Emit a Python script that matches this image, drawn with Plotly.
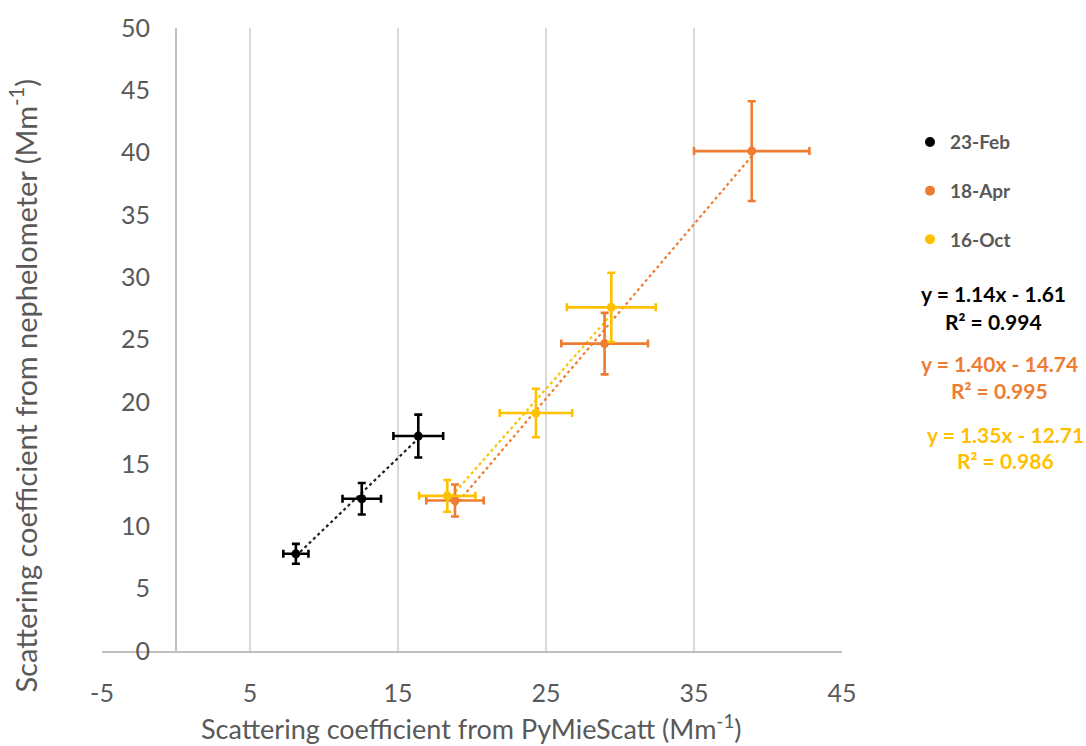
import numpy as np
import plotly.graph_objects as go

# ---- data ----
series_names = ["23-Feb", "18-Apr", "16-Oct"]
colors = ["#000000", "#ED7D31", "#FFC000"]
line_colors = ["#1b1f2e", "#ED7D31", "#FFC000"]

feb_x = [8.1, 12.55, 16.37]
feb_y = [7.8, 12.22, 17.25]
feb_ex = [0.85, 1.3, 1.68]
feb_ey = [0.8, 1.26, 1.72]

apr_x = [18.85, 28.96, 38.9]
apr_y = [12.08, 24.67, 40.12]
apr_ex = [1.94, 2.93, 3.9]
apr_ey = [1.28, 2.47, 4.0]

oct_x = [18.33, 24.32, 29.41]
oct_y = [12.45, 19.1, 27.58]
oct_ex = [1.9, 2.45, 3.0]
oct_ey = [1.27, 1.95, 2.78]

slopes = [1.14, 1.40, 1.35]
intercepts = [-1.61, -14.74, -12.71]
r2_values = [0.994, 0.995, 0.986]

xs = [feb_x, apr_x, oct_x]
ys = [feb_y, apr_y, oct_y]
exs = [feb_ex, apr_ex, oct_ex]
eys = [feb_ey, apr_ey, oct_ey]

x_ticks = [-5, 5, 15, 25, 35, 45]
x_tick_text = ["-5", "5", "15", "25", "35", "45"]
y_ticks = [0, 5, 10, 15, 20, 25, 30, 35, 40, 45, 50]

FONT = "Lato"
GRAY = "#595959"

fig = go.Figure()

# trendlines
for i in range(3):
    xr = np.array([min(xs[i]), max(xs[i])])
    fig.add_trace(go.Scatter(
        x=xr, y=slopes[i] * xr + intercepts[i], mode="lines",
        line=dict(color=line_colors[i], width=2.2, dash="dot"),
        showlegend=False, hoverinfo="skip"))

# data with error bars
for i in range(3):
    fig.add_trace(go.Scatter(
        x=xs[i], y=ys[i], mode="markers",
        marker=dict(color=colors[i], size=9),
        error_x=dict(type="data", array=exs[i], color=colors[i], thickness=2.6, width=4),
        error_y=dict(type="data", array=eys[i], color=colors[i], thickness=2.6, width=4),
        showlegend=False))

# legend entries
for i in range(3):
    fig.add_trace(go.Scatter(
        x=[None], y=[None], mode="markers", name=series_names[i],
        marker=dict(color=colors[i], size=10), legendgroup=series_names[i]))

W, H = 1086, 746
ml, mr, mt, mb = 102, 244, 22, 95
pw, ph = W - ml - mr, H - mt - mb

def px_to_paper(px, py):
    return (px - ml) / pw, 1 - (py - mt) / ph

# equation labels
eq_pos = [(994, 290, 318), (999, 361, 388), (1005, 432, 459)]
for i in range(3):
    cx, y1, y2 = eq_pos[i]
    sign = "-" if intercepts[i] < 0 else "+"
    txt1 = f"y = {slopes[i]:.2f}x {sign} {abs(intercepts[i]):.2f}"
    txt2 = f"R² = {r2_values[i]:.3f}"
    for t, yy in ((txt1, y1), (txt2, y2)):
        ax, ay = px_to_paper(cx, yy)
        fig.add_annotation(x=ax, y=ay, xref="paper", yref="paper", text=f"<b>{t}</b>",
                           showarrow=False, xanchor="center", yanchor="middle",
                           font=dict(family=FONT, size=21, color=colors[i]))

# y-axis title
ax, ay = px_to_paper(23, 383)
fig.add_annotation(x=ax, y=ay, xref="paper", yref="paper",
                   text="Scattering coefficient from nephelometer (Mm<sup>-1</sup>)",
                   textangle=-90, showarrow=False, xanchor="center", yanchor="middle",
                   font=dict(family=FONT, size=29, color=GRAY))
# x-axis title
ax, ay = px_to_paper(471, 728)
fig.add_annotation(x=ax, y=ay, xref="paper", yref="paper",
                   text="Scattering coefficient from PyMieScatt (Mm<sup>-1</sup>)",
                   showarrow=False, xanchor="center", yanchor="middle",
                   font=dict(family=FONT, size=27, color=GRAY))

lx, ly = px_to_paper(910, 118)
fig.update_layout(
    width=W, height=H,
    margin=dict(l=ml, r=mr, t=mt, b=mb),
    paper_bgcolor="white", plot_bgcolor="white",
    font=dict(family=FONT, color=GRAY),
    legend=dict(x=lx, y=ly, xanchor="left", yanchor="top",
                font=dict(family=FONT, size=19, color=GRAY, weight="bold"),
                tracegroupgap=21, itemwidth=30),
    xaxis=dict(range=[-5, 45], tickmode="array", tickvals=x_ticks, ticktext=x_tick_text,
               showgrid=True, gridcolor="#d9d9d9", gridwidth=1.5,
               zeroline=True, zerolinecolor="#bfbfbf", zerolinewidth=1.5,
               showline=True, linecolor="#bfbfbf", linewidth=1.5,
               ticks="", tickfont=dict(family=FONT, size=25, color=GRAY),
               ticklabelstandoff=19),
    yaxis=dict(range=[0, 50], tickmode="array", tickvals=y_ticks,
               showgrid=False, zeroline=False,
               anchor="free", position=0.1,
               showline=False, ticks="",
               tickfont=dict(family=FONT, size=25, color=GRAY),
               ticklabelstandoff=26),
)

fig.write_html("out.html")
